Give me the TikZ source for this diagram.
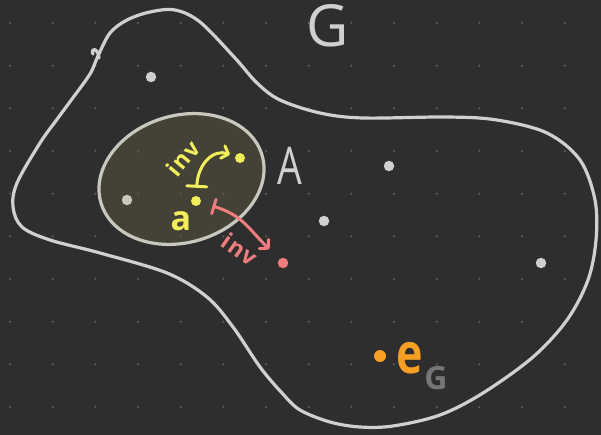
\documentclass[tikz,border=0pt]{standalone}
\usepackage{fontspec}
\setmainfont{Open Sans}
\usetikzlibrary{arrows.meta}

\definecolor{bgc}{RGB}{46,46,46}
\definecolor{gridc}{RGB}{88,88,88}
\definecolor{linec}{RGB}{208,208,208}
\definecolor{setfill}{RGB}{68,66,54}
\definecolor{setline}{RGB}{200,200,190}
\definecolor{ycol}{RGB}{242,238,90}
\definecolor{pcol}{RGB}{240,125,125}
\definecolor{ocol}{RGB}{245,160,35}
\definecolor{gsubc}{RGB}{118,118,118}

\newcommand\hwsize[1]{\fontsize{#1}{#1}\selectfont}

\tikzset{
  outer/.style={draw=linec, line width=3.2pt, line cap=round, line join=round},
  pt/.style={circle, inner sep=0pt, minimum size=#1},
  lbl/.style={inner sep=0pt},
  maps/.style={line width=3pt, line cap=round,
    {Bar[width=#1, round]}-{Straight Barb[length=6pt, width=13pt, round]}}
}

\begin{document}
\begin{tikzpicture}[x=1pt, y=-1pt]
\fill[bgc] (0,0) rectangle (601,435);
\useasboundingbox (0,0) rectangle (601,435);

% the subset A, filled first so the dot grid shows through
\fill[setfill, rotate around={16.6:(181.5,179)}] (181.5,179) ellipse [x radius=84pt, y radius=63.5pt];

% dot grid
\foreach \i in {0,...,13}
  \foreach \j in {0,...,9}
    \fill[gridc] ({10+42.67*\i},{23+42.67*\j}) circle (1.3pt);

\draw[setline, line width=3.2pt, rotate around={16.6:(181.5,179)}] (181.5,179) ellipse [x radius=84pt, y radius=63.5pt];

% the group G
\draw[outer] plot[smooth cycle, tension=0.55] coordinates {
  (98,56) (110,33) (127,20) (150,12) (175,10) (200,22) (235,58) (257,83)
  (280,100) (320,113) (363,118) (447,117) (497,120) (547,133) (580,160)
  (595,200) (596,240) (588,280) (567,320) (533,357) (483,393) (440,415)
  (393,426) (360,427) (330,422) (300,410) (282,393) (260,367) (233,327)
  (207,297) (167,273) (100,253) (50,240) (22,227) (13,207) (17,183)
  (40,143) (58,118) (72,99) (90,74)};
\draw[outer] (99,58) .. controls (98,47) and (90,48) .. (93,54);

% labels
\node[lbl, text=linec, font=\hwsize{58}] (Glbl) at (328,26) {G};
\node[lbl, text=linec, font=\hwsize{52}, xscale=0.75] (Albl) at (290,166) {A};
\node[lbl, text=ycol, font=\hwsize{34}\bfseries] (albl) at (181,221) {a};
\node[lbl, text=ocol, font=\hwsize{56}\bfseries, xscale=0.8] (elbl) at (410,358) {e};
\node[lbl, text=gsubc, font=\hwsize{32}\bfseries] (Gsub) at (436,378) {G};

% elements
\node[pt=10.5pt, fill=linec] (g1) at (151,77) {};
\node[pt=10.5pt, fill=setline] (g2) at (127,200) {};
\node[pt=10.5pt, fill=linec] (g3) at (389,166) {};
\node[pt=10.5pt, fill=linec] (g4) at (324,221) {};
\node[pt=10.5pt, fill=linec] (g5) at (541,263) {};
\node[pt=12pt, fill=ocol] (edot) at (380,356) {};
\node[pt=10pt, fill=ycol] (adot) at (196,201) {};
\node[pt=10pt, fill=ycol] (ydot) at (240,158) {};
\node[pt=10.5pt, fill=pcol] (pdot) at (283,263) {};

% inverse maps
\draw[ycol, maps=20pt, shorten <=8pt, shorten >=5.5pt]
  (adot) .. controls +(2,-38) and +(-26,-9) .. (ydot);
\draw[pcol, maps=15pt, shorten <=12pt, shorten >=14pt]
  (adot) .. controls +(46,14) and +(-35,-35) .. (pdot);

\node[lbl, text=ycol, font=\hwsize{23}\bfseries, rotate=50] (yinv) at (183,158) {i\kern1.5pt n\kern1.5pt v};
\node[lbl, text=pcol, font=\hwsize{23}\bfseries, rotate=-35] (pinv) at (240,249) {i\kern1.5pt n\kern1.5pt v};
\end{tikzpicture}
\end{document}
